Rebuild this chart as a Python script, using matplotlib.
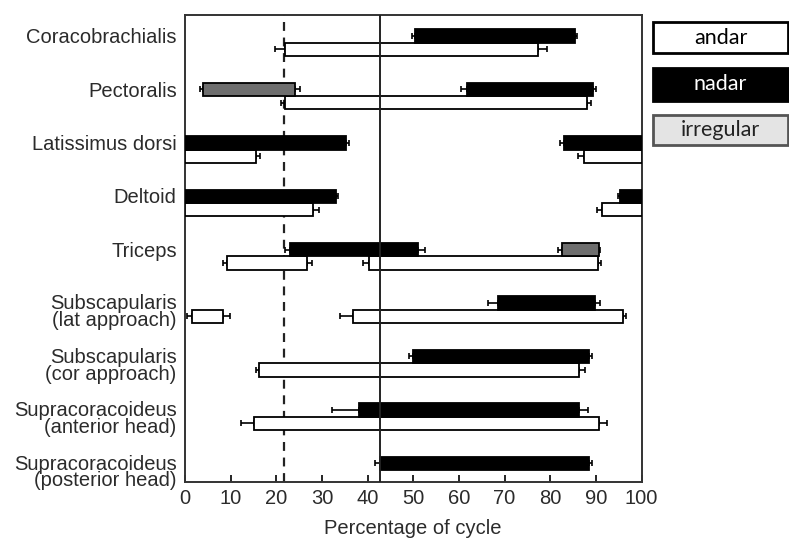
import matplotlib
matplotlib.use("Agg")
import matplotlib.pyplot as plt
from matplotlib.patches import Rectangle
import numpy as np

muscles = ["Coracobrachialis", "Pectoralis", "Latissimus dorsi", "Deltoid", "Triceps",
           "Subscapularis\n(lat approach)", "Subscapularis\n(cor approach)",
           "Supracoracoideus\n(anterior head)", "Supracoracoideus\n(posterior head)"]

series_names = ["andar", "nadar", "irregular"]

# andar (walking) bars: row, start, end, whisker low, whisker high
andar_row = [0, 1, 2, 2, 3, 3, 4, 4, 5, 5, 6, 7]
andar_start = [21.8, 21.8, 0, 87.3, 0, 91.3, 9.1, 40.4, 1.5, 36.7, 16.2, 15.1]
andar_end = [77.4, 88.1, 15.6, 100, 28.1, 100, 26.8, 90.4, 8.3, 96.0, 86.2, 90.7]
andar_lo = [19.7, 21.0, 0, 86.0, 0, 90.2, 8.4, 39.1, 0.5, 34.0, 15.6, 12.3]
andar_hi = [79.2, 89.0, 16.4, 100, 29.4, 100, 27.9, 91.1, 9.9, 96.7, 87.6, 92.5]

# nadar (swimming) bars
nadar_row = [0, 1, 2, 2, 3, 3, 4, 5, 6, 7, 8]
nadar_start = [50.4, 61.7, 0, 83.1, 0, 95.3, 23.0, 68.6, 50.0, 38.1, 42.7]
nadar_end = [85.4, 89.3, 35.2, 100, 33.0, 100, 51.1, 89.8, 88.6, 86.2, 88.6]
nadar_lo = [49.8, 60.5, 0, 82.1, 0, 94.9, 21.9, 66.4, 49.1, 32.1, 41.6]
nadar_hi = [85.8, 90.0, 36.0, 100, 33.6, 100, 52.6, 90.8, 89.1, 88.2, 89.1]

# irregular bars
irr_row = [1, 4]
irr_start = [3.9, 82.5]
irr_end = [24.1, 90.7]
irr_lo = [3.3, 81.8]
irr_hi = [25.3, 91.0]

dashed_x = 21.7
solid_x = 42.7
xticks = [0, 10, 20, 30, 40, 50, 60, 70, 80, 90, 100]
xlabel = "Percentage of cycle"

font = "Liberation Sans"
txtc = "#2b2b2b"

fig = plt.figure(figsize=(7.89, 5.41), dpi=100)
ax = fig.add_axes([185 / 789, 1 - 482 / 541, 456.5 / 789, 467 / 541])

H = 0.25


def draw(rows, starts, ends, los, his, face, offset):
    rows = np.asarray(rows, float)
    starts = np.asarray(starts, float)
    ends = np.asarray(ends, float)
    ys = rows + offset
    for y, s, e, lo, hi in zip(ys, starts, ends, los, his):
        if s - lo > 0.05:
            ax.errorbar(s, y, xerr=[[s - lo], [0]], fmt="none", ecolor="black",
                        elinewidth=1.2, capsize=2, capthick=1.2, zorder=2)
        if hi - e > 0.05:
            ax.errorbar(e, y, xerr=[[0], [hi - e]], fmt="none", ecolor="black",
                        elinewidth=1.2, capsize=2, capthick=1.2, zorder=2)
    ax.barh(ys, ends - starts, left=starts, height=H, color=face,
            edgecolor="black", linewidth=1.3, zorder=3)


draw(andar_row, andar_start, andar_end, andar_lo, andar_hi, "white", H / 2)
draw(nadar_row, nadar_start, nadar_end, nadar_lo, nadar_hi, "black", -H / 2)
draw(irr_row, irr_start, irr_end, irr_lo, irr_hi, "#6e6e6e", -H / 2)

ax.axvline(dashed_x, color="#222222", lw=1.6, ls=(0, (4, 3)), zorder=1)
ax.axvline(solid_x, color="#222222", lw=1.4, zorder=4)

ax.set_xlim(0, 100)
ax.set_ylim(8.225, -0.519)
ax.set_xticks(xticks)
ax.set_xticklabels([str(t) for t in xticks], fontsize=14.5, fontfamily=font, color=txtc)
ax.tick_params(axis="x", direction="in", length=5, width=1.2, pad=5)
ax.set_xlabel(xlabel, fontsize=14.5, fontfamily=font, color=txtc, labelpad=8)

ypos = [i - 0.13 if "\n" not in m else i + 0.03 for i, m in enumerate(muscles)]
ax.set_yticks(ypos)
ax.set_yticklabels(muscles, fontsize=14.5, fontfamily=font, color=txtc, linespacing=0.85)
ax.tick_params(axis="y", length=0, pad=6)
for sp in ax.spines.values():
    sp.set_linewidth(1.4)
    sp.set_color("#333333")

# legend boxes
legend_boxes = [
    (1 - 53 / 541, 31 / 541, "white", "black", "black"),
    (1 - 101 / 541, 33 / 541, "black", "black", "white"),
    (1 - 145 / 541, 30 / 541, "#e4e4e4", "#555555", "#222222"),
]
x0 = 653 / 789
w = 135 / 789
for name, (y0, h, fc, ec, tc) in zip(series_names, legend_boxes):
    fig.patches.append(Rectangle((x0, y0), w, h, transform=fig.transFigure,
                                 facecolor=fc, edgecolor=ec, linewidth=2))
    fig.text(x0 + w / 2, y0 + h / 2, name, ha="center", va="center",
             fontsize=15.5, fontfamily="Lato", color=tc)

fig.savefig("out.png", dpi=100)
